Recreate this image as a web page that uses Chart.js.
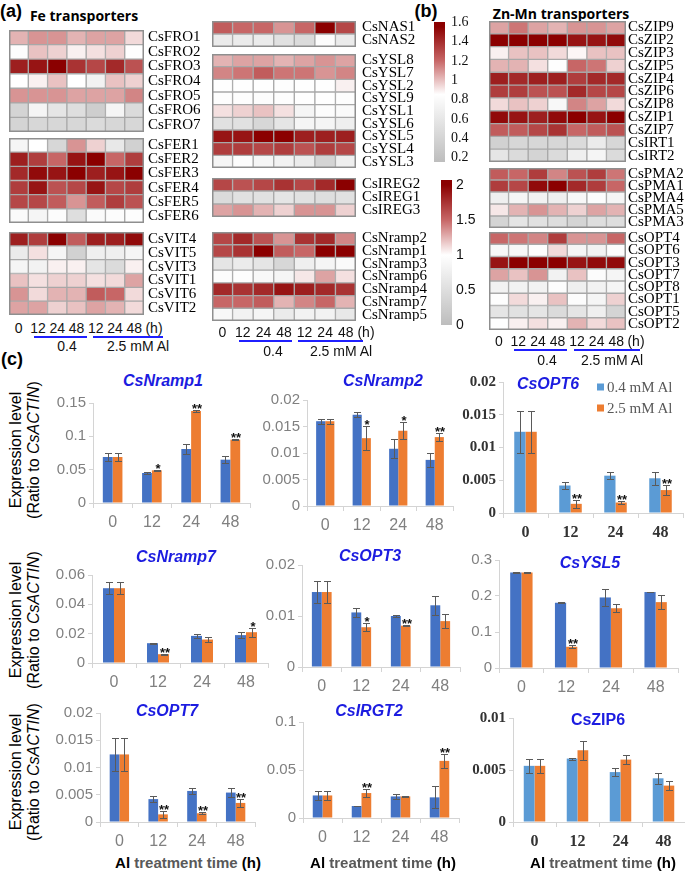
<!DOCTYPE html>
<html>
<head>
<meta charset="utf-8">
<title>Fe and Zn-Mn transporters under Al</title>
<script src="https://cdn.jsdelivr.net/npm/chart.js@4.4.1/dist/chart.umd.min.js"></script>
<style>
  body { margin: 0; background: #fff; }
  #page { position: relative; width: 685px; height: 875px; overflow: hidden; font-family: Arial, "Liberation Sans", sans-serif; }
  #page canvas { position: absolute; }
  .txt { position: absolute; white-space: nowrap; line-height: 1; transform: translate(-50%, -50%); }
  .panel { font-weight: bold; font-size: 18px; }
  .group { font-weight: bold; font-size: 14px; font-family: "Open Sans", Arial, sans-serif; }
  .hm { font-size: 14px; color: #111; }
  .gene { color: #1c1ce0; font-weight: bold; font-style: italic; font-size: 16px; }
  .hline { position: absolute; height: 2px; background: #1f1fff; }
  .ytitle { position: absolute; width: 150px; height: 40px; font-size: 16px; line-height: 18px; text-align: center; transform: rotate(-90deg); color: #000; }
  .xtitle { font-weight: bold; font-size: 15px; }
  .legend { font-family: "Liberation Serif", serif; font-size: 15px; color: #595959; transform: translate(0, -50%); }
  .legend span { display: inline-block; width: 7px; height: 7px; margin-right: 3px; vertical-align: 1px; }
</style>
</head>
<body>
<div id="page"></div>
<script>
// ---------- data ----------
var heatCols = ['0', '12', '24', '48', '12', '24', '48'];
var hours = ['0', '12', '24', '48'];

// (a) Fe transporters, relative expression
var froGenes = ['CsFRO1', 'CsFRO2', 'CsFRO3', 'CsFRO4', 'CsFRO5', 'CsFRO6', 'CsFRO7'];
var froValues = [
  [1.25, 1.35, 1.35, 1.25, 1.3, 1.3, 1.12],
  [0.97, 1.2, 1.15, 1.05, 1.1, 1.15, 0.98],
  [1.85, 1.9, 2.0, 1.75, 1.65, 1.8, 1.6],
  [1.0, 1.05, 1.2, 1.0, 0.8, 1.2, 1.15],
  [1.35, 1.35, 1.35, 1.3, 1.3, 1.3, 1.4],
  [0.35, 0.85, 0.6, 0.5, 0.25, 0.85, 0.45],
  [0.35, 0.4, 0.4, 0.4, 0.45, 0.4, 0.4]
];
var ferGenes = ['CsFER1', 'CsFER2', 'CsFER3', 'CsFER4', 'CsFER5', 'CsFER6'];
var ferValues = [
  [0.85, 1.0, 0.4, 1.35, 1.15, 0.65, 0.3],
  [1.85, 1.7, 1.5, 1.9, 2.0, 1.5, 1.7],
  [1.8, 1.95, 1.9, 2.0, 1.85, 1.9, 2.0],
  [1.7, 1.9, 1.6, 1.65, 1.9, 1.65, 1.7],
  [1.65, 1.65, 1.55, 1.35, 1.55, 1.7, 1.6],
  [0.93, 0.85, 0.95, 0.5, 0.93, 0.95, 0.97]
];
var vitGenes = ['CsVIT4', 'CsVIT5', 'CsVIT3', 'CsVIT1', 'CsVIT6', 'CsVIT2'];
var vitValues = [
  [1.85, 1.7, 2.0, 1.55, 1.85, 1.85, 1.95],
  [0.7, 1.1, 0.85, 0.3, 0.75, 0.75, 0.85],
  [0.85, 0.8, 1.05, 1.05, 0.6, 0.45, 1.05],
  [1.2, 1.1, 1.15, 1.15, 1.1, 1.12, 1.3],
  [1.35, 1.12, 1.25, 1.25, 1.55, 1.5, 1.12],
  [1.3, 1.3, 1.15, 1.2, 1.3, 1.25, 1.12]
];
var nasGenes = ['CsNAS1', 'CsNAS2'];
var nasValues = [
  [1.55, 1.5, 1.5, 1.35, 1.5, 2.0, 1.65],
  [0.7, 0.7, 0.7, 0.55, 0.45, 0.95, 0.7]
];
var yslGenes = ['CsYSL8', 'CsYSL7', 'CsYSL2', 'CsYSL9', 'CsYSL1', 'CsYSL6', 'CsYSL5', 'CsYSL4', 'CsYSL3'];
var yslValues = [
  [1.25, 1.3, 1.3, 1.25, 1.3, 1.35, 1.3],
  [1.4, 1.45, 1.55, 1.45, 1.45, 1.35, 1.4],
  [0.98, 0.98, 0.98, 0.97, 0.98, 0.98, 1.05],
  [0.97, 0.97, 0.95, 0.97, 0.98, 0.98, 0.97],
  [1.1, 1.15, 1.2, 1.1, 0.85, 0.95, 0.93],
  [0.55, 0.55, 0.4, 0.6, 0.85, 0.85, 0.75],
  [1.9, 1.9, 2.0, 2.0, 1.85, 1.85, 1.85],
  [1.7, 1.7, 1.65, 1.7, 1.6, 1.7, 1.65],
  [0.85, 0.95, 0.85, 0.8, 0.7, 0.35, 0.75]
];
var iregGenes = ['CsIREG2', 'CsIREG1', 'CsIREG3'];
var iregValues = [
  [1.65, 1.6, 1.65, 1.75, 1.65, 1.8, 2.0],
  [0.45, 0.55, 0.55, 0.6, 0.55, 0.5, 0.55],
  [1.3, 1.35, 1.25, 1.15, 1.35, 1.35, 1.15]
];
var nrampGenes = ['CsNramp2', 'CsNramp1', 'CsNramp3', 'CsNramp6', 'CsNramp4', 'CsNramp7', 'CsNramp5'];
var nrampValues = [
  [1.65, 1.8, 1.6, 1.35, 1.75, 1.8, 1.4],
  [1.65, 1.75, 2.0, 1.55, 1.5, 2.0, 2.0],
  [0.6, 0.7, 0.6, 0.4, 0.75, 0.85, 0.93],
  [0.95, 0.97, 0.9, 0.85, 1.08, 1.3, 1.1],
  [1.8, 1.75, 1.8, 1.9, 1.85, 1.8, 1.75],
  [1.5, 1.5, 1.55, 1.25, 1.4, 1.5, 1.25],
  [0.9, 0.8, 0.85, 0.7, 0.8, 0.8, 0.65]
];

// (b) Zn-Mn transporters
var zipGenes = ['CsZIP9', 'CsZIP2', 'CsZIP3', 'CsZIP5', 'CsZIP4', 'CsZIP6', 'CsZIP8', 'CsZIP1', 'CsZIP7', 'CsIRT1', 'CsIRT2'];
var zipValues = [
  [1.3, 1.45, 1.3, 1.25, 1.35, 1.35, 1.3],
  [2.0, 2.0, 2.0, 2.0, 1.9, 1.9, 1.95],
  [1.05, 1.2, 1.2, 1.12, 1.03, 1.2, 1.2],
  [1.25, 1.25, 1.1, 0.98, 1.5, 1.45, 1.15],
  [1.85, 1.8, 1.85, 1.85, 1.7, 1.8, 1.8],
  [1.7, 1.7, 1.6, 1.6, 1.8, 1.65, 1.65],
  [1.12, 1.2, 1.15, 0.9, 1.4, 1.3, 1.12],
  [1.95, 1.9, 1.85, 1.95, 2.0, 1.9, 2.0],
  [1.55, 1.55, 1.65, 1.75, 1.5, 1.55, 1.6],
  [0.3, 0.4, 0.4, 0.4, 0.45, 0.7, 0.4],
  [0.6, 0.45, 0.35, 0.45, 0.75, 0.85, 0.45]
];
var pmaGenes = ['CsPMA2', 'CsPMA1', 'CsPMA4', 'CsPMA5', 'CsPMA3'];
var pmaValues = [
  [1.55, 1.5, 1.7, 1.4, 1.6, 1.7, 1.45],
  [1.7, 1.65, 1.95, 2.0, 1.8, 1.7, 1.5],
  [0.75, 0.85, 0.8, 0.75, 0.88, 0.95, 0.85],
  [1.08, 1.25, 1.35, 1.25, 1.15, 1.3, 1.25],
  [0.35, 0.6, 0.55, 0.5, 0.35, 0.5, 0.5]
];
var optGenes = ['CsOPT4', 'CsOPT6', 'CsOPT3', 'CsOPT7', 'CsOPT8', 'CsOPT1', 'CsOPT5', 'CsOPT2'];
var optValues = [
  [1.5, 1.45, 1.4, 1.7, 1.35, 1.35, 1.5],
  [0.88, 0.88, 0.97, 1.12, 0.85, 0.8, 0.95],
  [1.9, 2.0, 2.0, 2.0, 1.9, 1.95, 1.95],
  [1.3, 1.2, 1.35, 0.8, 1.2, 0.95, 0.85],
  [0.8, 0.8, 0.8, 0.95, 0.75, 0.8, 0.85],
  [0.97, 1.12, 1.05, 1.2, 0.95, 0.85, 1.15],
  [0.6, 0.55, 0.6, 0.45, 0.6, 0.75, 0.35],
  [0.98, 1.05, 1.1, 1.05, 1.25, 1.12, 1.2]
];

// colour keys
var key1Ticks = [0.2, 0.4, 0.6, 0.8, 1, 1.2, 1.4, 1.6];
var key2Ticks = [0, 0.5, 1, 1.5, 2];

// (c) qRT-PCR, 0.4 mM Al (blue) and 2.5 mM Al (orange)
var nramp1Ticks = [0, 0.05, 0.1, 0.15];
var nramp1Low = [0.069, 0.045, 0.081, 0.065];
var nramp1LowErr = [0.006, 0.002, 0.008, 0.005];
var nramp1High = [0.069, 0.049, 0.138, 0.095];
var nramp1HighErr = [0.006, 0.001, 0.001, 0.001];
var nramp1Stars = ['', '*', '**', '**'];

var nramp2Ticks = [0, 0.005, 0.01, 0.015, 0.02];
var nramp2Low = [0.016, 0.0172, 0.0108, 0.0087];
var nramp2LowErr = [0.0005, 0.0005, 0.0018, 0.0013];
var nramp2High = [0.016, 0.0128, 0.0142, 0.013];
var nramp2HighErr = [0.0005, 0.0023, 0.0016, 0.0007];
var nramp2Stars = ['', '*', '*', '**'];

var opt6Ticks = [0, 0.005, 0.01, 0.015, 0.02];
var opt6Low = [0.0124, 0.0042, 0.0057, 0.0053];
var opt6LowErr = [0.0032, 0.0005, 0.0005, 0.001];
var opt6High = [0.0124, 0.0014, 0.0016, 0.0035];
var opt6HighErr = [0.0032, 0.0006, 0.0002, 0.0008];
var opt6Stars = ['', '**', '**', '**'];

var nramp7Ticks = [0, 0.02, 0.04, 0.06];
var nramp7Low = [0.051, 0.0135, 0.0185, 0.019];
var nramp7LowErr = [0.004, 0.0003, 0.0015, 0.002];
var nramp7High = [0.051, 0.006, 0.016, 0.021];
var nramp7HighErr = [0.004, 0.0003, 0.002, 0.003];
var nramp7Stars = ['', '**', '', '*'];

var opt3Ticks = [0, 0.01, 0.02];
var opt3Low = [0.0147, 0.0107, 0.0100, 0.0121];
var opt3LowErr = [0.0022, 0.0009, 0.0001, 0.0019];
var opt3High = [0.0147, 0.0078, 0.0081, 0.0090];
var opt3HighErr = [0.0022, 0.0008, 0.0001, 0.0013];
var opt3Stars = ['', '*', '**', ''];

var ysl5Ticks = [0, 0.1, 0.2, 0.3];
var ysl5Low = [0.265, 0.181, 0.196, 0.211];
var ysl5LowErr = [0.001, 0.001, 0.024, 0.001];
var ysl5High = [0.265, 0.059, 0.166, 0.183];
var ysl5HighErr = [0.001, 0.004, 0.011, 0.019];
var ysl5Stars = ['', '**', '', ''];

var opt7Ticks = [0, 0.005, 0.01, 0.015, 0.02];
var opt7Low = [0.0124, 0.0042, 0.0057, 0.0054];
var opt7LowErr = [0.0031, 0.0005, 0.0005, 0.0009];
var opt7High = [0.0124, 0.0014, 0.0016, 0.0035];
var opt7HighErr = [0.0031, 0.0006, 0.0002, 0.0008];
var opt7Stars = ['', '**', '**', '**'];

var irgt2Ticks = [0, 0.05, 0.1];
var irgt2Low = [0.0235, 0.0125, 0.0225, 0.0215];
var irgt2LowErr = [0.005, 0.0005, 0.003, 0.0115];
var irgt2High = [0.0235, 0.026, 0.0225, 0.0595];
var irgt2HighErr = [0.005, 0.004, 0.0005, 0.0075];
var irgt2Stars = ['', '**', '', '**'];

var zip6Ticks = [0, 0.005, 0.01];
var zip6Low = [0.0054, 0.0061, 0.0048, 0.0042];
var zip6LowErr = [0.0007, 0.0001, 0.0004, 0.0005];
var zip6High = [0.0054, 0.0069, 0.006, 0.0035];
var zip6HighErr = [0.0007, 0.0009, 0.0004, 0.0004];
var zip6Stars = ['', '', '', ''];

// ---------- helpers ----------
var page = document.getElementById('page');
var SERIF = "'Liberation Serif', 'Times New Roman', serif";
var SANS = "Arial, 'Liberation Sans', sans-serif";

var heatStops = [[0, [189, 189, 189]], [1, [255, 255, 255]], [1.5, [199, 102, 102]], [2, [139, 0, 0]]];
function rgb(c) { return 'rgb(' + c.join(',') + ')'; }
function heatColor(v) {
  v = Math.max(0, Math.min(2, v));
  for (var i = 1; i < heatStops.length; i++) {
    if (v <= heatStops[i][0]) {
      var a = heatStops[i - 1], b = heatStops[i];
      var t = (v - a[0]) / (b[0] - a[0]);
      return rgb(a[1].map(function (x, k) { return Math.round(x + (b[1][k] - x) * t); }));
    }
  }
  return rgb(heatStops[heatStops.length - 1][1]);
}

function addCanvas(left, top, w, h) {
  var cv = document.createElement('canvas');
  cv.width = w; cv.height = h;
  cv.style.left = left + 'px'; cv.style.top = top + 'px';
  cv.style.width = w + 'px'; cv.style.height = h + 'px';
  page.appendChild(cv);
  return cv;
}
function addText(html, cls, x, y, style) {
  var d = document.createElement('div');
  d.className = 'txt ' + cls;
  d.innerHTML = html;
  d.style.left = x + 'px'; d.style.top = y + 'px';
  if (style) d.style.cssText += style;
  page.appendChild(d);
  return d;
}
function addLine(x1, x2, y) {
  var d = document.createElement('div');
  d.className = 'hline';
  d.style.left = x1 + 'px'; d.style.top = y + 'px'; d.style.width = (x2 - x1) + 'px';
  page.appendChild(d);
}

var framePlugin = {
  id: 'frame',
  afterDatasetsDraw: function (chart) {
    var a = chart.chartArea, ctx = chart.ctx;
    ctx.save();
    ctx.strokeStyle = '#8f8f8f';
    ctx.lineWidth = 1.5;
    ctx.strokeRect(a.left + 0.75, a.top + 0.75, a.width - 1.5, a.height - 1.5);
    ctx.restore();
  }
};

function heatmap(left, top, width, height, genes, rows, labelW, pad) {
  var cv = addCanvas(left, top, width + labelW, height);
  var datasets = heatCols.map(function (t, c) {
    return {
      label: t,
      data: genes.map(function () { return [c, c + 1]; }),
      backgroundColor: rows.map(function (r) { return heatColor(r[c]); }),
      borderColor: '#a8a8a8',
      borderWidth: 1,
      borderSkipped: false,
      barPercentage: 1,
      categoryPercentage: 1,
      grouped: false
    };
  });
  new Chart(cv, {
    type: 'bar',
    data: { labels: genes, datasets: datasets },
    options: {
      indexAxis: 'y',
      responsive: false,
      animation: false,
      layout: { padding: 0 },
      plugins: { legend: { display: false }, tooltip: { enabled: false } },
      scales: {
        x: { display: false, min: 0, max: heatCols.length },
        y: {
          position: 'right',
          grid: { display: false, drawTicks: false },
          border: { display: false },
          ticks: { padding: pad, autoSkip: false, color: '#000', font: { family: SERIF, size: 15 } },
          afterFit: function (s) { s.width = labelW; s.paddingTop = 0; s.paddingBottom = 0; }
        }
      }
    },
    plugins: [framePlugin]
  });
}

function heatAxis(left, cellW, y, lineY, lines, lowX, highX, subY) {
  heatCols.forEach(function (t, c) {
    addText(t, 'hm', left + cellW * (c + 0.5), y);
  });
  addText('(h)', 'hm', left + cellW * 7 + 10, y);
  addLine(lines[0], lines[1], lineY);
  addLine(lines[2], lines[3], lineY);
  addText('0.4', 'hm', lowX, subY);
  addText('2.5 mM Al', 'hm', highX, subY);
}

function colorKey(left, top, height, ticks, toValue, family, size, pad2) {
  var pad = 8, barW = 11, labelW = 32;
  var lo = toValue(0), hi = toValue(2.07);
  new Chart(addCanvas(left, top - pad, barW + labelW, height + 2 * pad), {
    type: 'bar',
    data: {
      labels: [''],
      datasets: [{
        data: [[lo, hi]],
        barPercentage: 1,
        categoryPercentage: 1,
        backgroundColor: function (c) {
          var ch = c.chart, a = ch.chartArea, ys = ch.scales.y;
          if (!a || !ys) return '#ddd';
          var g = ch.ctx.createLinearGradient(0, a.bottom, 0, a.top);
          heatStops.forEach(function (s) {
            var off = (a.bottom - ys.getPixelForValue(toValue(s[0]))) / (a.bottom - a.top);
            g.addColorStop(Math.max(0, Math.min(1, off)), rgb(s[1]));
          });
          return g;
        }
      }]
    },
    options: {
      responsive: false,
      animation: false,
      layout: { padding: { top: pad, bottom: pad } },
      plugins: { legend: { display: false }, tooltip: { enabled: false } },
      scales: {
        x: { display: false },
        y: {
          position: 'right', min: lo, max: hi,
          grid: { display: false, drawTicks: false }, border: { display: false },
          afterBuildTicks: function (s) { s.ticks = ticks.map(function (v) { return { value: v }; }); },
          afterFit: function (s) { s.width = labelW; s.paddingTop = 0; s.paddingBottom = 0; },
          ticks: { padding: pad2, autoSkip: false, color: '#111', font: { family: family, size: size }, callback: function (v) { return String(v); } }
        }
      }
    }
  });
}

var errorBarPlugin = {
  id: 'errorBars',
  afterDatasetsDraw: function (chart) {
    var ctx = chart.ctx, ys = chart.scales.y;
    chart.data.datasets.forEach(function (ds, i) {
      chart.getDatasetMeta(i).data.forEach(function (bar, j) {
        var top = Math.round(ys.getPixelForValue(ds.data[j] + ds.err[j]));
        var bot = Math.round(ys.getPixelForValue(ds.data[j] - ds.err[j]));
        var x = Math.round(bar.x);
        ctx.save();
        ctx.strokeStyle = '#5a5a5a';
        ctx.lineWidth = 1;
        ctx.beginPath();
        ctx.moveTo(x + 0.5, top); ctx.lineTo(x + 0.5, bot);
        ctx.moveTo(x - 3, top + 0.5); ctx.lineTo(x + 4, top + 0.5);
        ctx.moveTo(x - 3, bot + 0.5); ctx.lineTo(x + 4, bot + 0.5);
        ctx.stroke();
        if (ds.stars && ds.stars[j]) {
          ctx.fillStyle = '#111';
          ctx.font = 'bold 13px ' + SANS;
          ctx.textAlign = 'center';
          ctx.textBaseline = 'alphabetic';
          ctx.fillText(ds.stars[j], x + 1, top + 3);
        }
        ctx.restore();
      });
    });
  }
};

function barChart(o) {
  var yw = 60, pt = 12, xh = 30, pr = 6;
  var cv = addCanvas(o.l - yw, o.t - pt, o.r - o.l + yw + pr, o.b - o.t + pt + xh);
  var tickFont = o.serif ? { family: SERIF, size: 15, weight: 'bold' } : { family: SANS, size: 15 };
  var xFont = o.serif ? { family: SERIF, size: 16, weight: 'bold' } : { family: SANS, size: 16 };
  var tickColor = o.serif ? '#333' : '#808080';
  new Chart(cv, {
    type: 'bar',
    data: {
      labels: hours,
      datasets: [
        { label: '0.4 mM Al', data: o.low, err: o.lowErr, backgroundColor: o.blue },
        { label: '2.5 mM Al', data: o.high, err: o.highErr, stars: o.stars, backgroundColor: '#ED7D31' }
      ]
    },
    options: {
      responsive: false,
      animation: false,
      categoryPercentage: 0.5,
      barPercentage: 1,
      layout: { padding: { top: pt, right: pr, left: 0, bottom: 0 } },
      plugins: { legend: { display: false }, tooltip: { enabled: false } },
      scales: {
        y: {
          min: 0, max: o.ticks[o.ticks.length - 1],
          afterBuildTicks: function (s) { s.ticks = o.ticks.map(function (v) { return { value: v }; }); },
          afterFit: function (s) { s.width = yw; },
          grid: { drawOnChartArea: false, tickLength: 4, color: '#d4d4d4' },
          border: { color: '#d4d4d4' },
          ticks: { padding: 3, color: tickColor, font: tickFont, callback: function (v) { return String(v); } }
        },
        x: {
          afterFit: function (s) { s.height = xh; },
          grid: { offset: true, drawOnChartArea: false, tickLength: 5, color: '#d4d4d4' },
          border: { color: '#d4d4d4' },
          ticks: { padding: 5, color: o.serif ? '#333' : '#808080', font: xFont }
        }
      }
    },
    plugins: [errorBarPlugin]
  });
}

// ---------- (a) and (b) heat maps ----------
addText('(a)', 'panel', 11, 11);
addText('Fe transporters', 'group', 84, 16);
addText('(b)', 'panel', 426, 11);
addText('Zn-Mn transporters', 'group', 561, 14);

heatmap(9, 30, 135, 102, froGenes, froValues, 72, 4);
heatmap(9, 138, 135, 85, ferGenes, ferValues, 72, 4);
heatmap(9, 232, 135, 83, vitGenes, vitValues, 72, 4);
heatAxis(9, 135 / 7, 328, 336, [34, 87, 93, 163], 67, 138, 346);

heatmap(212, 21, 144, 26, nasGenes, nasValues, 78, 6);
heatmap(212, 54, 144, 114, yslGenes, yslValues, 78, 6);
heatmap(212, 178, 144, 39, iregGenes, iregValues, 78, 6);
heatmap(212, 232, 144, 89, nrampGenes, nrampValues, 78, 6);
heatAxis(212, 144 / 7, 332, 340, [239, 292, 298, 363], 273, 341, 351);

colorKey(434, 22, 140, key1Ticks, function (h) { return 0.2 + h * 0.7 - 0.045; }, SERIF, 14, 6);
colorKey(441, 180, 145, key2Ticks, function (h) { return h; }, SANS, 14, 4);

heatmap(489, 21, 137, 141, zipGenes, zipValues, 62, 2);
heatmap(489, 168, 137, 60, pmaGenes, pmaValues, 62, 2);
heatmap(489, 232, 137, 98, optGenes, optValues, 62, 2);
heatAxis(489, 137 / 7, 341, 349, [514, 567, 574, 640], 547, 612, 360);

// ---------- (c) bar charts ----------
addText('(c)', 'panel', 12, 359);

function yTitle(cy) {
  var d = document.createElement('div');
  d.className = 'ytitle';
  d.innerHTML = 'Expression level<br>(Ratio to <i>CsACTIN</i>)';
  d.style.left = (27 - 75) + 'px';
  d.style.top = (cy - 20) + 'px';
  page.appendChild(d);
}
yTitle(450);
yTitle(620);
yTitle(772);

barChart({ l: 93, t: 403, r: 250, b: 503, ticks: nramp1Ticks, low: nramp1Low, lowErr: nramp1LowErr, high: nramp1High, highErr: nramp1HighErr, stars: nramp1Stars, blue: '#4472C4' });
addText('CsNramp1', 'gene', 163, 381);

barChart({ l: 307, t: 400, r: 453, b: 506, ticks: nramp2Ticks, low: nramp2Low, lowErr: nramp2LowErr, high: nramp2High, highErr: nramp2HighErr, stars: nramp2Stars, blue: '#4472C4' });
addText('CsNramp2', 'gene', 383, 381);

barChart({ l: 503, t: 382, r: 683, b: 513, ticks: opt6Ticks, low: opt6Low, lowErr: opt6LowErr, high: opt6High, highErr: opt6HighErr, stars: opt6Stars, blue: '#5B9BD5', serif: true });
addText('CsOPT6', 'gene', 548, 384);
addText('<span style="background:#5B9BD5"></span>0.4 mM Al', 'legend', 597, 387);
addText('<span style="background:#ED7D31"></span>2.5 mM Al', 'legend', 597, 408);

barChart({ l: 92, t: 575, r: 268, b: 663, ticks: nramp7Ticks, low: nramp7Low, lowErr: nramp7LowErr, high: nramp7High, highErr: nramp7HighErr, stars: nramp7Stars, blue: '#4472C4' });
addText('CsNramp7', 'gene', 176, 557);

barChart({ l: 302, t: 565, r: 460, b: 667, ticks: opt3Ticks, low: opt3Low, lowErr: opt3LowErr, high: opt3High, highErr: opt3HighErr, stars: opt3Stars, blue: '#4472C4' });
addText('CsOPT3', 'gene', 370, 556);

barChart({ l: 499, t: 560, r: 678, b: 668, ticks: ysl5Ticks, low: ysl5Low, lowErr: ysl5LowErr, high: ysl5High, highErr: ysl5HighErr, stars: ysl5Stars, blue: '#4472C4' });
addText('CsYSL5', 'gene', 590, 563);

barChart({ l: 100, t: 713, r: 255, b: 822, ticks: opt7Ticks, low: opt7Low, lowErr: opt7LowErr, high: opt7High, highErr: opt7HighErr, stars: opt7Stars, blue: '#4472C4' });
addText('CsOPT7', 'gene', 167, 711);

barChart({ l: 303, t: 722, r: 459, b: 818, ticks: irgt2Ticks, low: irgt2Low, lowErr: irgt2LowErr, high: irgt2High, highErr: irgt2HighErr, stars: irgt2Stars, blue: '#4472C4' });
addText('CsIRGT2', 'gene', 369, 711);

barChart({ l: 513, t: 718, r: 685, b: 822, ticks: zip6Ticks, low: zip6Low, lowErr: zip6LowErr, high: zip6High, highErr: zip6HighErr, stars: zip6Stars, blue: '#5B9BD5', serif: true });
addText('CsZIP6', 'gene', 598, 720, 'font-style:normal');

var xt = '<span style="color:#000">Al</span> <span style="color:#595959">treatment time</span> <span style="color:#000">(h)</span>';
addText(xt, 'xtitle', 188, 862);
addText(xt, 'xtitle', 383, 862);
addText(xt, 'xtitle', 603, 862);
</script>
</body>
</html>
